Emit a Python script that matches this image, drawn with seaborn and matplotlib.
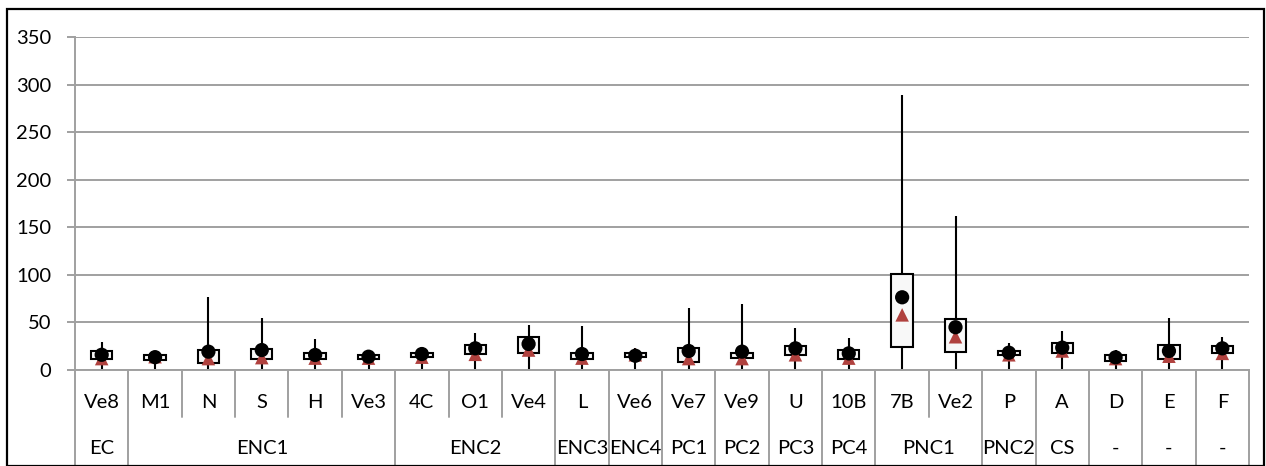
import numpy as np
import pandas as pd
import matplotlib
matplotlib.use("Agg")
import matplotlib.pyplot as plt
import matplotlib.transforms as mtransforms
from matplotlib.patches import Rectangle
import seaborn as sns

# data (min, Q1, median, mean, Q3, max)
samples = ["Ve8", "M1", "N", "S", "H", "Ve3", "4C", "O1", "Ve4", "L", "Ve6",
           "Ve7", "Ve9", "U", "10B", "7B", "Ve2", "P", "A", "D", "E", "F"]
groups = ["EC", "ENC1", "ENC1", "ENC1", "ENC1", "ENC1", "ENC2", "ENC2", "ENC2",
          "ENC3", "ENC4", "PC1", "PC2", "PC3", "PC4", "PNC1", "PNC1", "PNC2",
          "CS", "-1", "-2", "-3"]
v_min = [0] * 22
v_q1 = [12, 10.5, 7.7, 11.6, 11.2, 11.2, 13.5, 16.8, 17.5, 11.2, 13.3,
        8.8, 12.3, 15.8, 11.2, 23.9, 19.3, 15.8, 17.5, 9.8, 11.2, 17.5]
v_median = [12, 14, 12, 13, 12.5, 12.5, 13.5, 16.5, 21, 12.5, 16,
            12, 12, 16, 12.5, 58, 35, 16, 20, 12, 14.5, 17.5]
v_mean = [16, 13.5, 19.3, 21, 15.8, 14, 16.8, 22.8, 27.4, 16.8, 15,
          20, 19.3, 22.8, 17.5, 76.5, 45, 18.2, 23.5, 13.3, 20, 22.8]
v_q3 = [20, 15.5, 21, 21.8, 17.5, 16, 17.5, 26.3, 34.4, 18.2, 17.5,
        22.8, 18.2, 25.3, 21, 101, 53.3, 20.4, 28, 15.8, 26.3, 25.6]
v_max = [29.5, 20, 77, 54.4, 32.3, 19, 21, 38.6, 47.4, 46.3, 22.8,
         65, 69.5, 43.9, 33.3, 289.5, 162, 28.8, 41, 21, 54.4, 34.4]

df = pd.DataFrame({"sample": samples, "group": groups, "vmin": v_min,
                   "q1": v_q1, "median": v_median, "mean": v_mean,
                   "q3": v_q3, "vmax": v_max})
df["x"] = np.arange(len(df))

sns.set_theme(style="white")
plt.rcParams["font.family"] = ["Lato", "DejaVu Sans"]

W, H = 1266, 466
fig = plt.figure(figsize=(W / 100, H / 100), dpi=100)
ax = fig.add_axes([75 / W, (H - 370) / H, (1249 - 75) / W, (370 - 37.3) / H])

grid_c = "#a0a0a0"
fs = 14.5
ax.set_ylim(0, 350)
ax.set_xlim(-0.5, len(df) - 0.5)
ax.set_yticks(np.arange(0, 351, 50))
ax.yaxis.grid(True, color=grid_c, lw=1.4)
ax.set_axisbelow(True)
ax.tick_params(axis="y", length=6, color=grid_c, width=1.4, labelsize=fs,
               pad=11, labelcolor="black", left=True)
ax.set_xticks([])
for s in ["top", "right"]:
    ax.spines[s].set_visible(False)
for s in ["left", "bottom"]:
    ax.spines[s].set_color(grid_c)
    ax.spines[s].set_linewidth(1.4)

# whiskers
ax.vlines(df["x"], df["vmin"], df["vmax"], color="black", lw=1.5, zorder=2)
# boxes
ax.bar(df["x"], df["q3"] - df["q1"], bottom=df["q1"], width=0.4,
       color="#f8f8f8", edgecolor="black", linewidth=1.5, zorder=3)
# median and mean markers
sns.scatterplot(data=df, x="x", y="median", marker="^", s=95,
                color="#b0413e", edgecolor="none", zorder=4, ax=ax, legend=False)
sns.scatterplot(data=df, x="x", y="mean", marker="o", s=105,
                color="black", edgecolor="none", zorder=5, ax=ax, legend=False)
ax.set_xlabel("")
ax.set_ylabel("")

# two-level category axis
trans = mtransforms.blended_transform_factory(ax.transData, ax.transAxes)
ah = 370 - 37.3
row1_y = -(403 - 370) / ah
row1_end = -(417 - 370) / ah
row2_y = -(448 - 370) / ah
row2_end = -(466 - 370) / ah

for i, name in enumerate(samples):
    ax.text(i, row1_y, name, transform=trans, ha="center", va="center",
            fontsize=fs, color="black")

bounds = [0]
for i in range(1, len(groups)):
    if groups[i] != groups[i - 1]:
        bounds.append(i)
bounds.append(len(groups))

group_starts = set(bounds)
for b in range(len(groups) + 1):
    end = row2_end if b in group_starts else row1_end
    ax.plot([b - 0.5, b - 0.5], [0, end], transform=trans, color=grid_c,
            lw=1.4, clip_on=False)

for a, b in zip(bounds[:-1], bounds[1:]):
    label = "-" if groups[a].startswith("-") else groups[a]
    ax.text((a + b - 1) / 2, row2_y, label, transform=trans, ha="center",
            va="center", fontsize=fs, color="black")

# outer frame
fig.patches.append(Rectangle((7 / W, 0), (1264 - 7) / W, (H - 9) / H,
                             transform=fig.transFigure, fill=False,
                             edgecolor="black", lw=1.6))

fig.savefig("out.png", dpi=100)
